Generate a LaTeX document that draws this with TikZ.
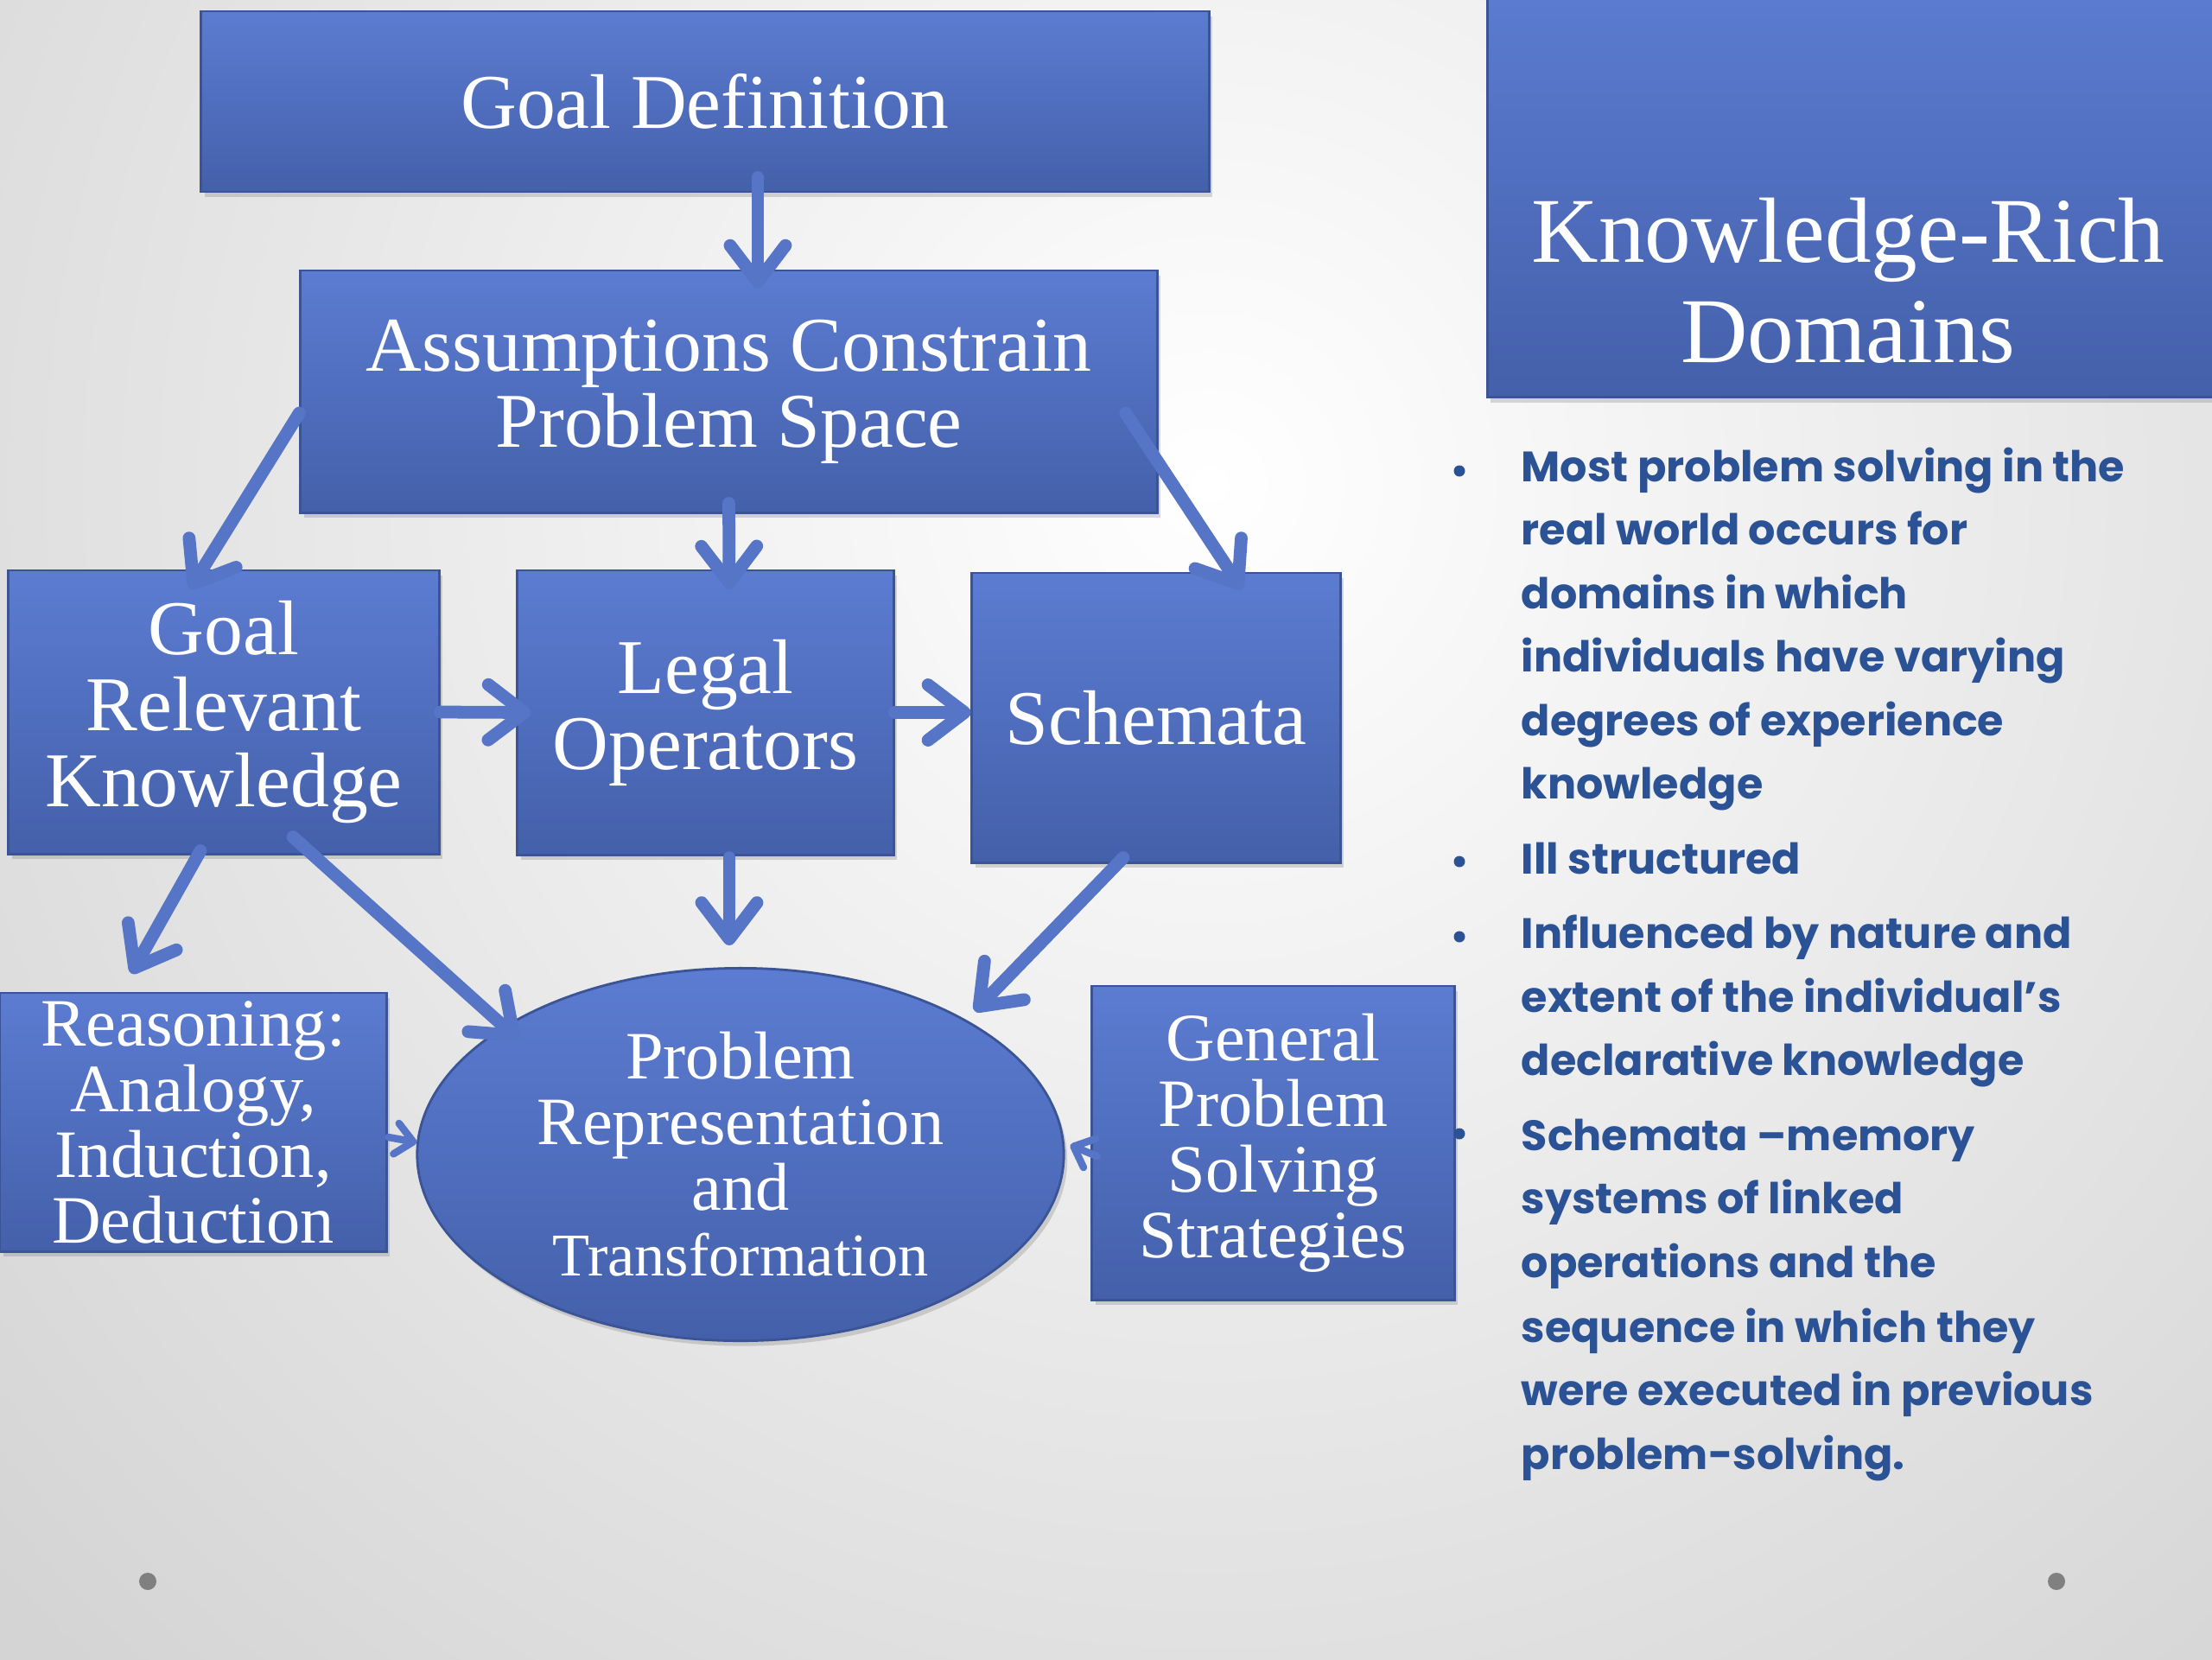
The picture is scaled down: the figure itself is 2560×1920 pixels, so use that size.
\documentclass[tikz,border=0pt]{standalone}
\usepackage{fontspec}
\usepackage{tikz}
\usetikzlibrary{shapes.geometric}
\usetikzlibrary{arrows.meta}
\usetikzlibrary{positioning}
\usetikzlibrary{calc}
\usetikzlibrary{shadows}
\newfontfamily\boxfont{Liberation Serif}
\newfontfamily\listfont{Poppins}
\definecolor{boxtop}{RGB}{92,124,210}
\definecolor{boxbot}{RGB}{68,96,170}
\definecolor{boxedge}{RGB}{58,84,150}
\definecolor{arrowblue}{RGB}{86,117,198}
\definecolor{listblue}{RGB}{44,82,150}
\definecolor{bggray}{RGB}{212,212,212}
\tikzset{
  blk/.style={rectangle, draw=boxedge, line width=0.8pt, top color=boxtop, bottom color=boxbot,
    text=white, align=center, inner sep=0pt, font=\boxfont\fontsize{25.5}{25}\selectfont,
    drop shadow={shadow xshift=0.04cm, shadow yshift=-0.06cm, opacity=0.3}},
  small/.style={font=\boxfont\fontsize{22.3}{21.6}\selectfont},
  oval/.style={ellipse, draw=boxedge, line width=0.8pt, top color=boxtop, bottom color=boxbot,
    text=white, align=center, inner sep=0pt, minimum width=7.48cm, minimum height=4.31cm,
    font=\boxfont\fontsize{22.3}{21.6}\selectfont,
    drop shadow={shadow xshift=0.04cm, shadow yshift=-0.06cm, opacity=0.3}},
  flow/.style={draw=arrowblue, line width=4.2pt, line cap=round,
    -{Straight Barb[length=0.42cm, width=0.64cm, round]}},
  flowsmall/.style={draw=arrowblue, line width=2.4pt, line cap=round,
    -{Straight Barb[length=0.2cm, width=0.36cm, round]}},
  listline/.style={anchor=base west, inner sep=0pt, text=listblue,
    font=\listfont\bfseries\fontsize{14}{14}\selectfont},
}
\begin{document}
\begin{tikzpicture}[x=0.01cm, y=-0.01cm]
\useasboundingbox (0,0) rectangle (2560,1920);
\begin{scope}
\clip (-10,-10) rectangle (2570,1930);
\fill[bggray] (-10,-10) rectangle (2570,1930);
\shade[inner color=white, outer color=bggray] (1400,560) circle (1900);
\end{scope}

\node[blk, minimum width=11.66cm, minimum height=2.09cm] (goaldef) at (816,117.5) {Goal Definition};
\node[blk, minimum width=9.91cm, minimum height=2.80cm] (assume) at (843.5,453) {Assumptions Constrain\\Problem Space};
\node[blk, minimum width=4.98cm, minimum height=3.28cm] (goalrel) at (259,824) {Goal\\Relevant\\Knowledge};
\node[blk, minimum width=4.35cm, minimum height=3.29cm] (legal) at (816.5,824.5) {Legal\\Operators};
\node[blk, minimum width=4.26cm, minimum height=3.35cm] (schem) at (1338,830.5) {Schemata};
\node[blk, small, minimum width=4.47cm, minimum height=2.99cm] (reason) at (223.5,1298.5) {Reasoning:\\Analogy,\\Induction,\\Deduction};
\node[oval] (probrep) at (857,1336) {Problem\\Representation\\and\\{\fontsize{20}{20}\selectfont Transformation}};
\node[blk, small, minimum width=4.19cm, minimum height=3.63cm] (gps) at (1473.5,1322.5) {General\\Problem\\Solving\\Strategies};
\node[blk, minimum width=8.6cm, minimum height=4.81cm, anchor=south west] (krd) at (1720,461) {};
\node[text=white, align=center, inner sep=0pt, anchor=south, font=\boxfont\fontsize{30.5}{33}\selectfont]
  (krdtitle) at ($(krd.south west)+(419,-40)$) {Knowledge-Rich\\Domains};

\draw[flow] ($(goaldef.south)+(61,-18)$) -- ($(assume.north)+(33.5,22)$);
\draw[flow] ($(assume.west)+(0,25)$) -- ($(goalrel.north)+(-39,23)$);
\draw[flow] ($(assume.south)+(0,-12)$) -- ($(legal.north)+(27.5,23)$);
\draw[flow] ($(assume.east)+(-38,25)$) -- ($(schem.north)+(99,20)$);
\draw[flow] (goalrel.east) -- ($(legal.west)+(17,0)$);
\draw[flow] (legal.east) -- (legal.east -| schem.west);
\draw[flow] ($(goalrel.south)+(-27,-5)$) -- ($(reason.north)+(-71.5,-21)$);
\draw[flow] ($(goalrel.south)+(80,-21)$) -- ($(probrep.center)+(-257,-133)$);
\draw[flow] ($(legal.south)+(27.5,2)$) -- ($(probrep.north)+(-13,-25)$);
\draw[flow] ($(schem.south)+(-38,-7)$) -- ($(probrep.center)+(271,-166)$);
\draw[flowsmall] ($(reason.east)+(1,17.5)$) -- ($(probrep.west)+(1,-14)$);
\draw[flowsmall] ($(gps.west)+(7,15.5)$) -- ($(probrep.east)+(6,-11)$);

\foreach \n/\y/\t in {1/557/Most problem solving in the, 2/630/real world occurs for,
  3/704/domains in which, 4/777/individuals have varying, 5/851/degrees of experience,
  6/924/knowledge, 7/1011/Ill structured, 8/1097/Influenced by nature and,
  9/1171/extent of the individual’s, 10/1244/declarative knowledge,
  11/1331/Schemata –memory, 12/1404/systems of linked, 13/1478/operations and the,
  14/1553/sequence in which they, 15/1626/were executed in previous, 16/1700/problem-solving.}
  \node[listline] (line\n) at (1760,\y) {\t};
\foreach \y in {545,997,1084,1312}
  \fill[listblue] (1689,\y) circle (6.5);

\fill[gray] (171,1830) circle (10);
\fill[gray] (2380,1830) circle (10);
\end{tikzpicture}
\end{document}
